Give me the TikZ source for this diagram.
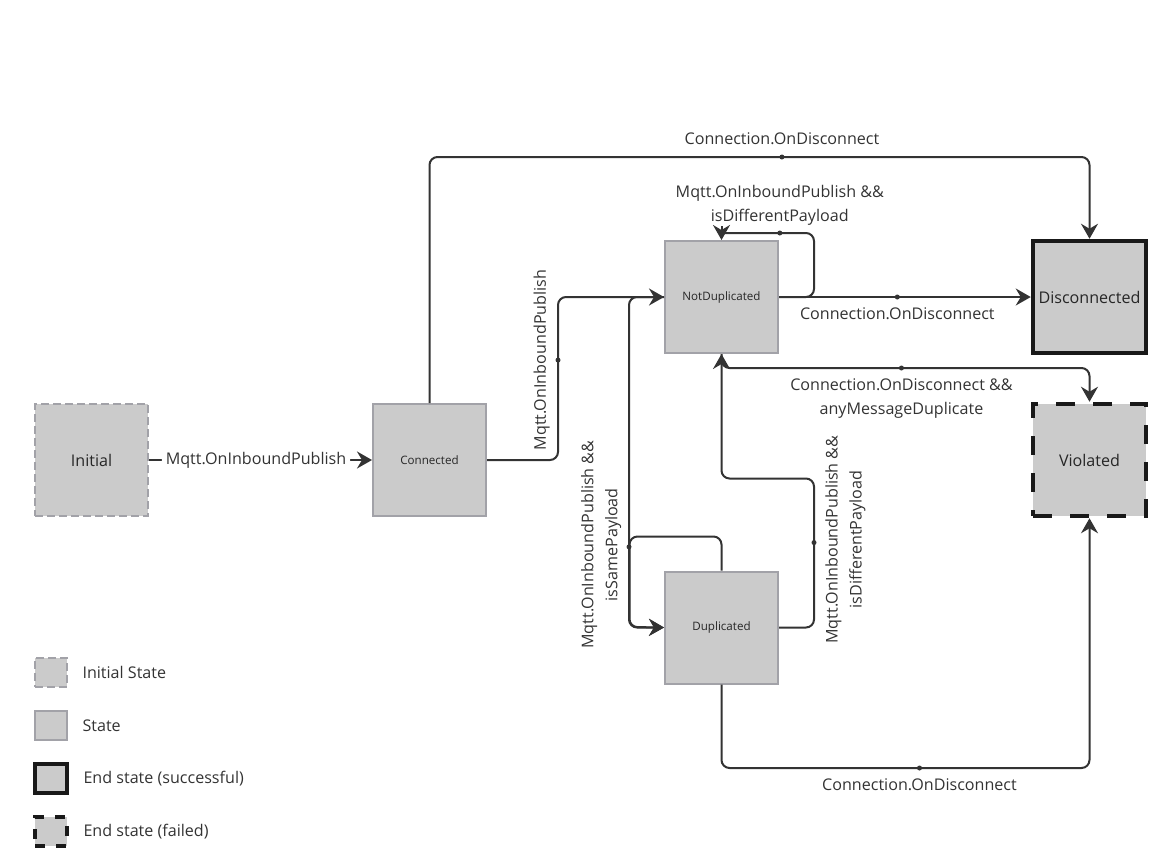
\documentclass[tikz,border=0pt]{standalone}
\usepackage{fontspec}
\setmainfont{Open Sans}
\usetikzlibrary{arrows.meta,positioning}
\definecolor{statefill}{HTML}{CBCBCB}
\definecolor{stateedge}{HTML}{A2A2A8}
\definecolor{linecol}{HTML}{333333}
\newcommand{\biglabel}{\fontsize{16.1}{24}\selectfont}
\newcommand{\smalllabel}{\fontsize{11.6}{13}\selectfont}
\tikzstyle{state} = [rectangle, minimum width=113, minimum height=112, inner sep=0, fill=statefill, draw=stateedge, line width=2, text=black!85, font=\smalllabel]
\tikzstyle{initialstate} = [state, dash pattern=on 8pt off 4pt, font=\biglabel]
\tikzstyle{endstate} = [state, draw=black!90, line width=4.5, font=\biglabel]
\tikzstyle{failstate} = [endstate, dash pattern=on 19pt off 18pt]
\tikzstyle{legendbox} = [minimum width=32, minimum height=29]
\tikzstyle{edgelabel} = [text=linecol, font=\biglabel, align=center]
\tikzstyle{dot} = [circle, fill=linecol, inner sep=0, minimum size=5]
\tikzstyle{line} = [line width=2, draw=linecol, rounded corners=8]
\tikzstyle{arrow} = [line, -{Stealth[length=15pt, width=17pt, inset=5pt]}]

\begin{document}
\begin{tikzpicture}[x=1pt, y=-1pt, node distance=53]
    \useasboundingbox (0,0) rectangle (1157,863);

    \node (initial) [initialstate] at (91.5,460) {Initial};
    \node (connected) [state] at (429.5,460) {Connected};
    \node (notduplicated) [state] at (721.5,297) {NotDuplicated};
    \node (duplicated) [state] at (721.5,627.5) {Duplicated};
    \node (disconnected) [endstate] at (1089.5,297) {Disconnected};
    \node (violated) [failstate] at (1089.5,460) {Violated};

    \coordinate (looptop) at (notduplicated.north |- 0,233);
    \coordinate (looptip) at (notduplicated.north |- 0,226);

    \draw [arrow] (initial) -- node [edgelabel, fill=white, inner sep=4, pos=0.48] {Mqtt.OnInboundPublish} (connected);
    \draw [arrow] (connected.east) -- ++(71,0) -- ++(0,-163) node [dot, pos=0.613] {} node [edgelabel, xshift=-4, rotate=90, anchor=south, pos=0.613] {Mqtt.OnInboundPublish} -- (notduplicated.west);
    \draw [arrow] (connected.north) -- (connected.north |- 0,157) -- node [dot, pos=0.534] {} node [edgelabel, above=8pt, pos=0.534] {Connection.OnDisconnect} (disconnected.north |- 0,157) -- (disconnected.north);
    \draw [line] (notduplicated.east) -- ++(35,0) -- ++(0,-64) -- node [dot, pos=0.37] {} node [edgelabel, above=3pt, pos=0.37] {Mqtt.OnInboundPublish \&\&\\isDifferentPayload} (looptop);
    \draw [arrow] (looptip) -- (notduplicated.north);
    \draw [arrow] (notduplicated.east) -- node [dot, pos=0.47] {} node [edgelabel, below=6pt, pos=0.47] {Connection.OnDisconnect} (disconnected.west);
    \draw [arrow] (notduplicated.south) -- (notduplicated.south |- 0,368) -- node [dot, pos=0.489] {} node [edgelabel, below=6pt, pos=0.489] {Connection.OnDisconnect \&\&\\anyMessageDuplicate} (violated.north |- 0,368) -- (violated.north);
    \draw [arrow] (notduplicated.west) -- ++(-35,0) -- ++(0,330.5) node [dot, pos=0.756] {} -- (duplicated.west);
    \draw [arrow] (duplicated.north) -- ++(0,-34) -- ++(-92,0) -- ++(0,90.5) node [edgelabel, xshift=-4, rotate=90, anchor=south, pos=0.09] {Mqtt.OnInboundPublish \&\&\\isSamePayload} -- (duplicated.west);
    \draw [arrow] (duplicated.east) -- ++(35,0) -- ++(0,-149) node [dot, pos=0.57] {} node [edgelabel, xshift=7, yshift=3, rotate=90, anchor=north, pos=0.57] {Mqtt.OnInboundPublish \&\&\\isDifferentPayload} -- (notduplicated.south |- 0,478.5) -- (notduplicated.south);
    \draw [arrow] (duplicated.south) -- (duplicated.south |- 0,768) -- node [dot, pos=0.538] {} node [edgelabel, below=6pt, pos=0.538] {Connection.OnDisconnect} (violated.south |- 0,768) -- (violated.south);

    % legend
    \node (legendinitial) [initialstate, legendbox] at (51,672.5) {};
    \node (legendstate) [state, legendbox, below of=legendinitial] {};
    \node (legendsuccess) [endstate, legendbox, line width=4, below of=legendstate] {};
    \node (legendfailed) [failstate, legendbox, line width=4, dash pattern=on 10pt off 11pt, below of=legendsuccess] {};
    \node [edgelabel, right=11pt of legendinitial] {Initial State};
    \node [edgelabel, right=11pt of legendstate] {State};
    \node [edgelabel, right=11pt of legendsuccess] {End state (successful)};
    \node [edgelabel, right=11pt of legendfailed] {End state (failed)};
\end{tikzpicture}
\end{document}
